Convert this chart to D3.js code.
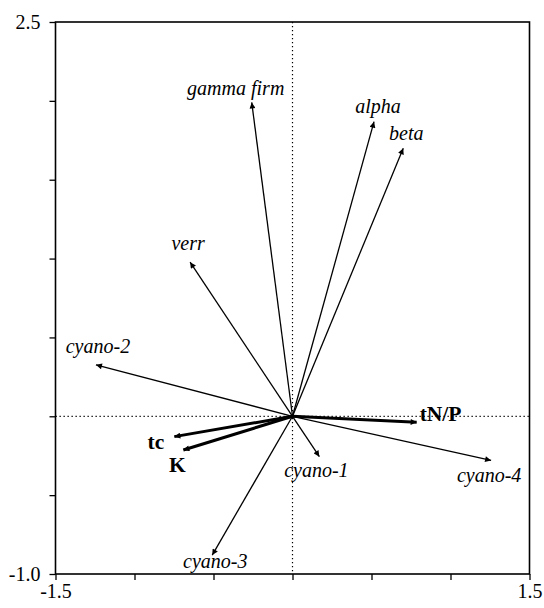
<!DOCTYPE html>
<html>
<head>
<meta charset="utf-8">
<script src="https://cdn.jsdelivr.net/npm/d3@7"></script>
<style>
  body { margin: 0; background: #fff; }
</style>
</head>
<body>
<div id="vis"></div>
<script>
// biplot vectors (axis 1 / axis 2 scores)
var names  = ["gamma firm", "alpha", "beta", "verr", "cyano-2", "tc", "K", "tN/P", "cyano-1", "cyano-4", "cyano-3"];
var axis1  = [-0.258, 0.516, 0.701, -0.648, -1.244, -0.748, -0.691, 0.786, 0.170, 1.257, -0.508];
var axis2  = [ 1.990, 1.868, 1.699,  0.977,  0.326, -0.129, -0.214, -0.038, -0.256, -0.280, -0.880];
var isEnv  = [false, false, false, false, false, true, true, true, false, false, false];

var xTicks = [-1.5, -1, -0.5, 0, 0.5, 1, 1.5];
var yTicks = [-1, -0.5, 0, 0.5, 1, 1.5, 2, 2.5];
var xTickLabels = ["-1.5", "", "", "", "", "", "1.5"];
var yTickLabels = ["-1.0", "", "", "", "", "", "", "2.5"];

var serif = "'Liberation Serif', 'Times New Roman', serif";

// where each label sits relative to its arrow tip (layout only)
var labelOffset = {
    "gamma firm": [-16, -7, "middle"],
    "alpha":      [4, -9, "middle"],
    "beta":       [3, -8, "middle"],
    "verr":       [-2, -12, "middle"],
    "cyano-2":    [2, -12, "middle"],
    "tc":         [-10, 12, "end"],
    "K":          [-6, 22, "middle"],
    "tN/P":       [3, -1, "start"],
    "cyano-1":    [-3, 20, "middle"],
    "cyano-4":    [-2, 22, "middle"],
    "cyano-3":    [3, 13, "middle"]
};

var width = 544, height = 608;
var margin = {left: 55.5, right: 14.5, top: 22, bottom: 34};

var x = d3.scaleLinear().domain([-1.5, 1.5]).range([margin.left, width - margin.right]);
var y = d3.scaleLinear().domain([-1, 2.5]).range([height - margin.bottom, margin.top]);

var svg = d3.select("#vis").append("svg")
    .attr("width", width)
    .attr("height", height);

svg.append("defs").append("marker")
    .attr("id", "head")
    .attr("viewBox", "0 0 10 10")
    .attr("refX", 10).attr("refY", 5)
    .attr("markerUnits", "userSpaceOnUse")
    .attr("markerWidth", 8).attr("markerHeight", 6)
    .attr("orient", "auto")
    .append("path").attr("d", "M0,0L10,5L0,10Z").attr("fill", "#000");

// zero lines, dotted
svg.append("line")
    .attr("x1", x(0)).attr("x2", x(0))
    .attr("y1", y(2.5)).attr("y2", y(-1))
    .attr("stroke", "#000").attr("stroke-width", 1.2)
    .attr("stroke-dasharray", "1.3,2.7");
svg.append("line")
    .attr("x1", x(-1.5)).attr("x2", x(1.5))
    .attr("y1", y(0)).attr("y2", y(0))
    .attr("stroke", "#000").attr("stroke-width", 1.2)
    .attr("stroke-dasharray", "1.3,2.7");

// axes: ticks on left and bottom only
var xAxis = d3.axisBottom(x).tickValues(xTicks).tickSize(6).tickSizeOuter(0)
    .tickFormat((d, i) => xTickLabels[i]);
var yAxis = d3.axisLeft(y).tickValues(yTicks).tickSize(6).tickSizeOuter(0)
    .tickFormat((d, i) => yTickLabels[i]);

var gx = svg.append("g").attr("transform", "translate(0," + y(-1) + ")").call(xAxis);
var gy = svg.append("g").attr("transform", "translate(" + x(-1.5) + ",0)").call(yAxis);
[gx, gy].forEach(g => {
    g.select(".domain").remove();
    g.selectAll("line").attr("stroke", "#000").attr("stroke-width", 1.3);
    g.selectAll("text").attr("fill", "#000")
        .style("font-size", "20px")
        .style("font-family", serif);
});
gx.selectAll("text").attr("y", 24).attr("dy", 0);
gy.selectAll("text").attr("x", -15).attr("dy", "0.33em");

// frame
svg.append("rect")
    .attr("x", x(-1.5)).attr("y", y(2.5))
    .attr("width", x(1.5) - x(-1.5)).attr("height", y(-1) - y(2.5))
    .attr("fill", "none").attr("stroke", "#000").attr("stroke-width", 1.6);

var vecs = names.map((n, i) => ({name: n, a1: axis1[i], a2: axis2[i], env: isEnv[i]}));

svg.append("g").selectAll("line")
    .data(vecs)
    .enter()
    .append("line")
    .attr("x1", x(0)).attr("y1", y(0))
    .attr("x2", d => x(d.a1)).attr("y2", d => y(d.a2))
    .attr("stroke", "#000")
    .attr("stroke-width", d => d.env ? 3 : 1.3)
    .attr("marker-end", "url(#head)");

svg.append("g").selectAll("text")
    .data(vecs)
    .enter()
    .append("text")
    .attr("x", d => x(d.a1) + labelOffset[d.name][0])
    .attr("y", d => y(d.a2) + labelOffset[d.name][1])
    .attr("text-anchor", d => labelOffset[d.name][2])
    .style("font-family", serif)
    .style("font-style", d => d.env ? "normal" : "italic")
    .style("font-weight", d => d.env ? "bold" : "normal")
    .style("font-size", d => d.env ? "21.5px" : "20px")
    .text(d => d.name);
</script>
</body>
</html>
